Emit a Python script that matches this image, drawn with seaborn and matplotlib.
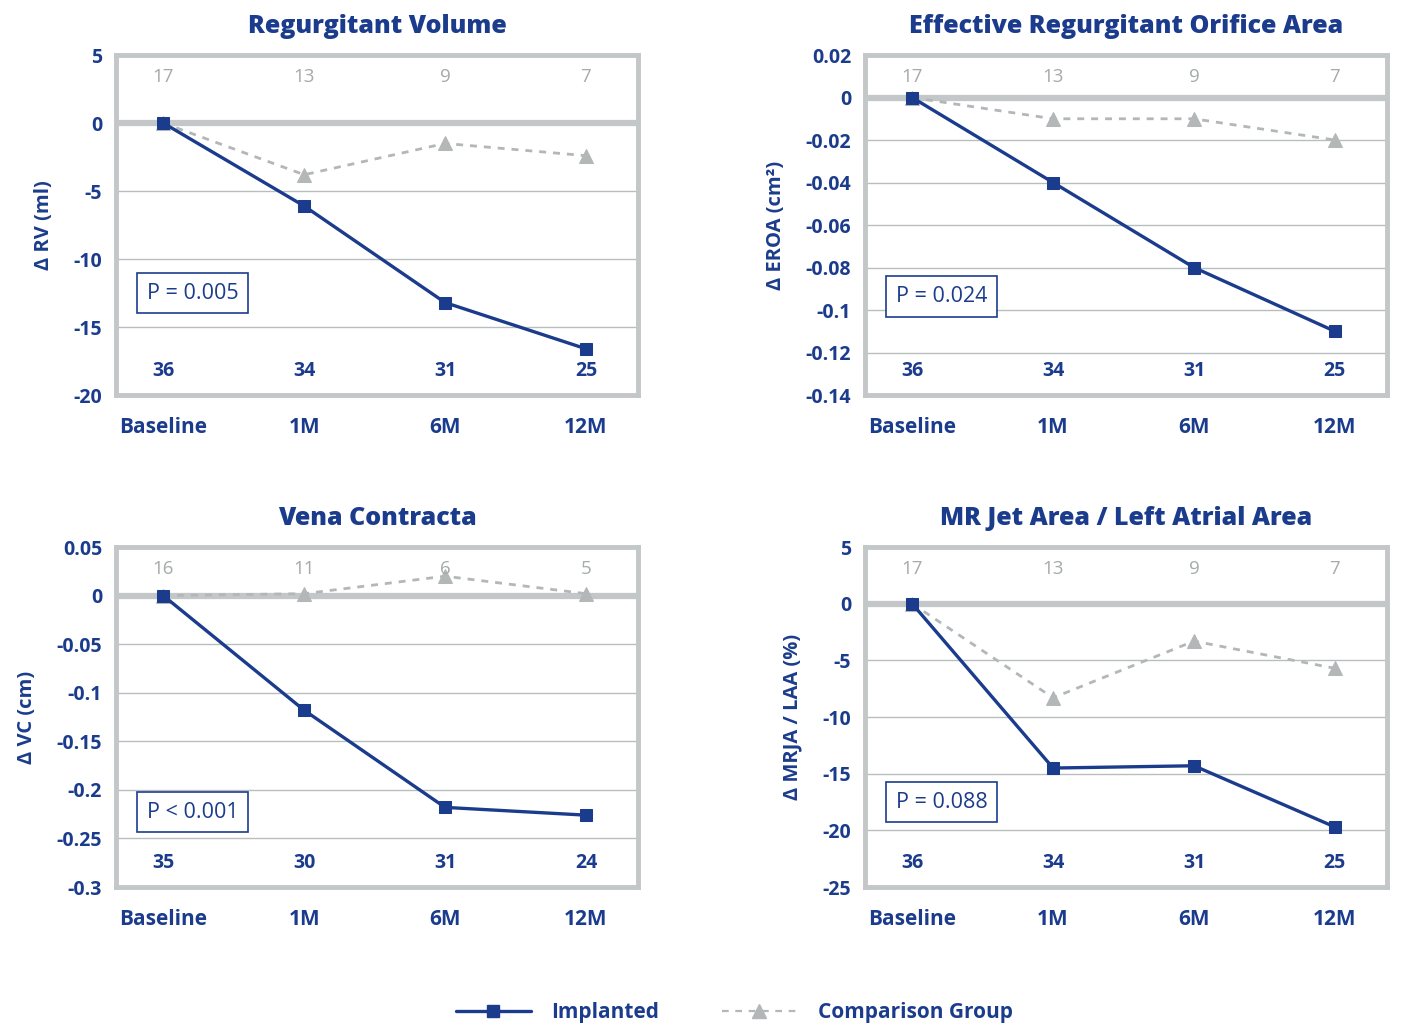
'Change in MR severity over follow-up: implanted vs comparison group'
import matplotlib
matplotlib.use('Agg')
import matplotlib.pyplot as plt
import matplotlib.transforms as mtransforms
from matplotlib.lines import Line2D
from matplotlib.ticker import FuncFormatter
import pandas as pd
import seaborn as sns

# ---- data ----
timepoints = ['Baseline', '1M', '6M', '12M']

rv_implanted = [0, -6.1, -13.2, -16.6]
rv_comparison = [0, -3.8, -1.5, -2.4]
rv_n_implanted = [36, 34, 31, 25]
rv_n_comparison = [17, 13, 9, 7]

eroa_implanted = [0, -0.04, -0.08, -0.11]
eroa_comparison = [0, -0.01, -0.01, -0.02]
eroa_n_implanted = [36, 34, 31, 25]
eroa_n_comparison = [17, 13, 9, 7]

vc_implanted = [0, -0.118, -0.218, -0.226]
vc_comparison = [0, 0.002, 0.02, 0.002]
vc_n_implanted = [35, 30, 31, 24]
vc_n_comparison = [16, 11, 6, 5]

mrja_implanted = [0, -14.5, -14.3, -19.7]
mrja_comparison = [0, -8.3, -3.3, -5.7]
mrja_n_implanted = [36, 34, 31, 25]
mrja_n_comparison = [17, 13, 9, 7]

titles = ['Regurgitant Volume', 'Effective Regurgitant Orifice Area',
          'Vena Contracta', 'MR Jet Area / Left Atrial Area']
ylabels = ['Δ RV (ml)', 'Δ EROA (cm²)', 'Δ VC (cm)', 'Δ MRJA / LAA (%)']
pvalues = ['P = 0.005', 'P = 0.024', 'P < 0.001', 'P = 0.088']
yticks = [
    [5, 0, -5, -10, -15, -20],
    [0.02, 0, -0.02, -0.04, -0.06, -0.08, -0.1, -0.12, -0.14],
    [0.05, 0, -0.05, -0.1, -0.15, -0.2, -0.25, -0.3],
    [5, 0, -5, -10, -15, -20, -25],
]

BLUE = '#1b3c8c'
GRAY = '#b3b7b7'
LIGHT = '#a6aaaa'
FRAME = '#c3c7c7'
GRID = '#b9bdbd'


def make_frame(implanted, comparison):
    """Long-form table for one panel."""
    pos = list(range(len(timepoints)))
    return pd.DataFrame({
        'pos': pos * 2,
        'value': implanted + comparison,
        'group': ['Implanted'] * len(pos) + ['Comparison Group'] * len(pos),
    })


def draw_panel(ax, implanted, comparison, n_imp, n_cmp, title, ylabel,
               pval, ticks, pbox_y):
    df = make_frame(implanted, comparison)
    imp = df[df['group'] == 'Implanted']
    cmp_ = df[df['group'] == 'Comparison Group']

    ax.set_facecolor('white')
    ax.axhline(0, color=FRAME, lw=4.5, zorder=1)
    sns.lineplot(data=cmp_, x='pos', y='value', ax=ax, color=GRAY, lw=2,
                 linestyle=(0, (2.5, 2.5)), marker='^', markersize=10,
                 markeredgecolor=GRAY, zorder=3, legend=False)
    sns.lineplot(data=imp, x='pos', y='value', ax=ax, color=BLUE, lw=2.4,
                 marker='s', markersize=9, markeredgecolor=BLUE, zorder=4,
                 legend=False)

    ax.set_xlim(-0.335, 3.37)
    ax.set_ylim(ticks[-1], ticks[0])
    ax.set_yticks(ticks)
    ax.yaxis.set_major_formatter(FuncFormatter(lambda v, p: f'{v:g}'))
    ax.set_xticks(range(len(timepoints)))
    ax.set_xticklabels(timepoints)
    ax.tick_params(axis='both', length=0, labelsize=14, labelcolor=BLUE)
    ax.tick_params(axis='x', pad=16, labelsize=15)
    ax.tick_params(axis='y', pad=10)
    for lab in ax.get_xticklabels() + ax.get_yticklabels():
        lab.set_fontweight('bold')

    ax.grid(axis='y', color=GRID, lw=1)
    ax.grid(axis='x', visible=False)
    for sp in ax.spines.values():
        sp.set_visible(True)
        sp.set_color(FRAME)
        sp.set_linewidth(3.5)

    ax.set_title(title, fontsize=18, fontweight='heavy', color=BLUE, pad=16)
    ax.set_xlabel('')
    ax.set_ylabel(ylabel, fontsize=14.5, fontweight='bold', color=BLUE,
                  labelpad=14)

    trans = mtransforms.blended_transform_factory(ax.transData, ax.transAxes)
    for i, (a, b) in enumerate(zip(n_imp, n_cmp)):
        ax.text(i, 0.072, str(a), transform=trans, ha='center', va='center',
                fontsize=14, fontweight='bold', color=BLUE)
        ax.text(i, 0.935, str(b), transform=trans, ha='center', va='center',
                fontsize=13.5, color=LIGHT)

    ax.text(0.147, pbox_y, pval, transform=ax.transAxes, ha='center',
            va='center', fontsize=15.5, color=BLUE, zorder=5,
            bbox=dict(boxstyle='square,pad=0.45', fc='white', ec=BLUE, lw=1.2))


def main():
    sns.set_theme(style='white')
    plt.rcParams['font.family'] = ['Open Sans', 'DejaVu Sans']
    plt.rcParams['axes.unicode_minus'] = False

    fig = plt.figure(figsize=(14.12, 10.25), dpi=100)
    fig.patch.set_facecolor('white')

    w, h = 0.3697, 0.3317
    positions = [(0.0822, 0.6146), (0.6126, 0.6146),
                 (0.0822, 0.1346), (0.6126, 0.1346)]
    panels = [
        (rv_implanted, rv_comparison, rv_n_implanted, rv_n_comparison),
        (eroa_implanted, eroa_comparison, eroa_n_implanted, eroa_n_comparison),
        (vc_implanted, vc_comparison, vc_n_implanted, vc_n_comparison),
        (mrja_implanted, mrja_comparison, mrja_n_implanted, mrja_n_comparison),
    ]
    pbox_ys = [0.30, 0.29, 0.22, 0.25]

    for k, ((l, b), series) in enumerate(zip(positions, panels)):
        ax = fig.add_axes([l, b, w, h])
        draw_panel(ax, *series, titles[k], ylabels[k], pvalues[k], yticks[k],
                   pbox_ys[k])

    handles = [
        Line2D([0], [0], color=BLUE, lw=2.4, marker='s', markersize=9),
        Line2D([0], [0], color=GRAY, lw=1.6, linestyle=(0, (3, 3)),
               marker='^', markersize=10),
    ]
    fig.legend(handles, ['Implanted', 'Comparison Group'], loc='center',
               bbox_to_anchor=(0.52, 0.012), ncol=2, frameon=False,
               handlelength=3.6, columnspacing=3.0, handletextpad=1.0,
               prop={'size': 15, 'weight': 'bold'}, labelcolor=BLUE)

    fig.savefig('out.png', dpi=100, facecolor='white')
    plt.close(fig)


if __name__ == '__main__':
    main()
